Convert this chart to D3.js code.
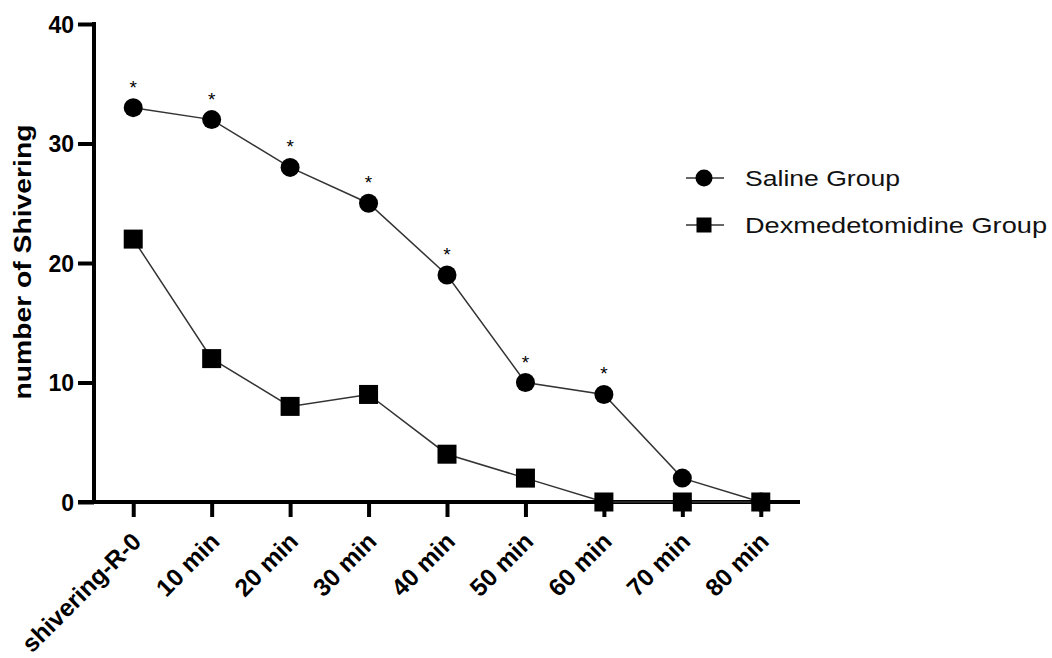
<!DOCTYPE html>
<html lang="en">
<head>
  <meta charset="utf-8">
  <title>Shivering</title>
  <script src="https://d3js.org/d3.v7.min.js"></script>
  <style>
    body { margin: 0; background: #fff; }
    text { font-family: "Liberation Sans", Arial, sans-serif; }
  </style>
</head>
<body>
  <script>
    // categories and series
    var times = ["shivering-R-0", "10 min", "20 min", "30 min", "40 min", "50 min", "60 min", "70 min", "80 min"];
    var saline = [33, 32, 28, 25, 19, 10, 9, 2, 0];
    var dex = [22, 12, 8, 9, 4, 2, 0, 0, 0];
    var starred = [true, true, true, true, true, true, true, false, false];
    var yTicks = [0, 10, 20, 30, 40];

    var w = 1052, h = 658;
    var svg = d3.select("body").append("svg")
      .attr("width", w)
      .attr("height", h);

    var x = d3.scalePoint().domain(times).range([94, 800]).padding(0.5);
    var y = d3.scaleLinear().domain([0, 40]).range([502, 24]);

    // y axis
    var yAxis = svg.append("g")
      .attr("transform", "translate(94,0)")
      .call(d3.axisLeft(y).tickValues(yTicks).tickSize(16).tickPadding(4));
    yAxis.select(".domain").attr("stroke-width", 4).attr("d", "M0,22V504");
    yAxis.selectAll(".tick line").attr("stroke-width", 4);
    yAxis.selectAll(".tick text")
      .style("font-size", "23px").style("font-weight", "bold").attr("fill", "#000")
      .attr("dy", "0.36em");

    // x axis
    var xAxis = svg.append("g")
      .attr("transform", "translate(0,502)")
      .call(d3.axisBottom(x).tickSize(15).tickSizeOuter(0));
    xAxis.select(".domain").attr("stroke-width", 4).attr("d", "M78,0H800");
    xAxis.selectAll(".tick line").attr("stroke-width", 4);
    xAxis.selectAll(".tick text")
      .style("font-size", "24.5px").style("font-weight", "bold").attr("fill", "#000")
      .attr("text-anchor", "end")
      .attr("y", 0).attr("dy", 0)
      .attr("transform", "translate(9,41) rotate(-45)");

    // y title
    svg.append("text")
      .attr("transform", "translate(31,262) rotate(-90)")
      .attr("text-anchor", "middle")
      .attr("textLength", 275).attr("lengthAdjust", "spacingAndGlyphs")
      .style("font-size", "23px").style("font-weight", "bold")
      .text("number of Shivering");

    var line = d3.line()
      .x(function (d, i) { return x(times[i]); })
      .y(function (d) { return y(d); });

    svg.append("path").datum(saline).attr("d", line)
      .attr("fill", "none").attr("stroke", "#333").attr("stroke-width", 1.5);
    svg.append("path").datum(dex).attr("d", line)
      .attr("fill", "none").attr("stroke", "#333").attr("stroke-width", 1.5);

    svg.selectAll(".sq").data(dex).enter().append("rect")
      .attr("x", function (d, i) { return x(times[i]) - 9.5; })
      .attr("y", function (d) { return y(d) - 9.5; })
      .attr("width", 19).attr("height", 19).attr("fill", "#000");

    svg.selectAll(".dot").data(saline).enter().append("circle")
      .attr("cx", function (d, i) { return x(times[i]); })
      .attr("cy", function (d) { return y(d); })
      .attr("r", 9.5).attr("fill", "#000");

    svg.selectAll(".star").data(times.filter(function (t, i) { return starred[i]; })).enter()
      .append("text")
      .attr("x", function (t) { return x(t); })
      .attr("y", function (t) { return y(saline[times.indexOf(t)]) - 14; })
      .attr("text-anchor", "middle")
      .style("font-size", "19px")
      .text("*");

    // legend
    var legend = [{ name: "Saline Group", shape: "circle", len: 155 }, { name: "Dexmedetomidine Group", shape: "square", len: 302 }];
    var lg = svg.selectAll(".lg").data(legend).enter().append("g")
      .attr("transform", function (d, i) { return "translate(686," + (178 + i * 47) + ")"; });
    lg.append("line").attr("x1", 0).attr("x2", 38).attr("stroke", "#333").attr("stroke-width", 1.5);
    lg.each(function (d) {
      var g = d3.select(this);
      if (d.shape == "circle") g.append("circle").attr("cx", 18).attr("r", 8.5).attr("fill", "#000");
      else g.append("rect").attr("x", 10.5).attr("y", -7.5).attr("width", 15).attr("height", 15).attr("fill", "#000");
    });
    lg.append("text").attr("x", 59).attr("dy", "0.36em")
      .attr("textLength", function (d) { return d.len; }).attr("lengthAdjust", "spacingAndGlyphs")
      .style("font-size", "22px").attr("fill", "#111")
      .text(function (d) { return d.name; });
  </script>
</body>
</html>
